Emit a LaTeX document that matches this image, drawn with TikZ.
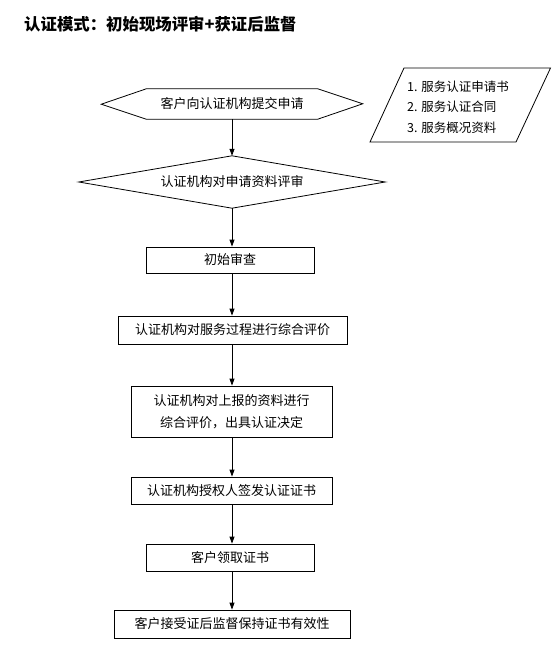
\documentclass[tikz,border=0pt]{standalone}
\usepackage{fontspec}
\setmainfont{Noto Sans CJK SC}
\usetikzlibrary{shapes.geometric,arrows.meta}
\tikzset{
  stepbox/.style={draw=black,line width=0.8pt,rectangle,inner sep=0pt,font=\fontsize{13}{16}\selectfont,align=center},
  flow/.style={draw=black,line width=0.8pt,-{Triangle[length=7pt,width=5pt]}},
  txt/.style={font=\fontsize{13}{16}\selectfont,inner sep=0pt},
  outline/.style={draw=black,line width=0.8pt}
}
\begin{document}
\begin{tikzpicture}[x=1pt,y=-1pt]
\useasboundingbox[fill=white] (0,0) rectangle (553,647);
% title
\node[anchor=west,inner sep=0pt,font=\fontsize{16.4}{18}\selectfont\bfseries] (title) at (24,24) {认证模式：初始现场评审+获证后监督};
% hexagon
\node[txt,minimum width=171pt,minimum height=30pt] (hex) at (232,104) {客户向认证机构提交申请};
\draw[outline] (hex.north west) -- (hex.north east) -- ++(45,15) -- (hex.south east) -- (hex.south west) -- ++(-45,-15) -- cycle;
% diamond
\node[txt,rectangle,minimum width=306pt,minimum height=52pt] (dia) at (232,182) {认证机构对申请资料评审};
\draw[outline] (dia.west) -- (dia.north) -- (dia.east) -- (dia.south) -- cycle;
% boxes
\node[stepbox,minimum width=168pt,minimum height=26pt] (b1) at (230,260) {初始审查};
\node[stepbox,minimum width=229pt,minimum height=28pt] (b2) at (232.5,330) {认证机构对服务过程进行综合评价};
\node[stepbox,minimum width=201pt,minimum height=51pt,font=\fontsize{13}{22}\selectfont] (b3) at (231.5,411.5) {认证机构对上报的资料进行\\综合评价，出具认证决定};
\node[stepbox,minimum width=201pt,minimum height=27pt] (b4) at (231.5,490.5) {认证机构授权人签发认证证书};
\node[stepbox,minimum width=168pt,minimum height=27pt] (b5) at (230,557.5) {客户领取证书};
\node[stepbox,minimum width=236pt,minimum height=28pt] (b6) at (232,624) {客户接受证后监督保持证书有效性};
% parallelogram
\coordinate (pa) at (404,68);
\coordinate (pb) at (550.5,68);
\coordinate (pc) at (516,142);
\coordinate (pd) at (370,142);
\draw[outline] (pa) -- (pb) -- (pc) -- (pd) -- cycle;
\node[txt,anchor=west,font=\fontsize{12.5}{15}\selectfont] (p1) at (407,87) {1. 服务认证申请书};
\node[txt,anchor=west,font=\fontsize{12.5}{15}\selectfont] (p2) at (407,107) {2. 服务认证合同};
\node[txt,anchor=west,font=\fontsize{12.5}{15}\selectfont] (p3) at (407,128) {3. 服务概况资料};
% arrows
\draw[flow] (hex.south) -- (dia.north);
\draw[flow] (dia.south) -- (dia.south |- b1.north);
\draw[flow] (dia.south |- b1.south) -- (dia.south |- b2.north);
\draw[flow] (dia.south |- b2.south) -- (dia.south |- b3.north);
\draw[flow] (dia.south |- b3.south) -- (dia.south |- b4.north);
\draw[flow] (dia.south |- b4.south) -- (dia.south |- b5.north);
\draw[flow] (dia.south |- b5.south) -- (dia.south |- b6.north);
\end{tikzpicture}
\end{document}
